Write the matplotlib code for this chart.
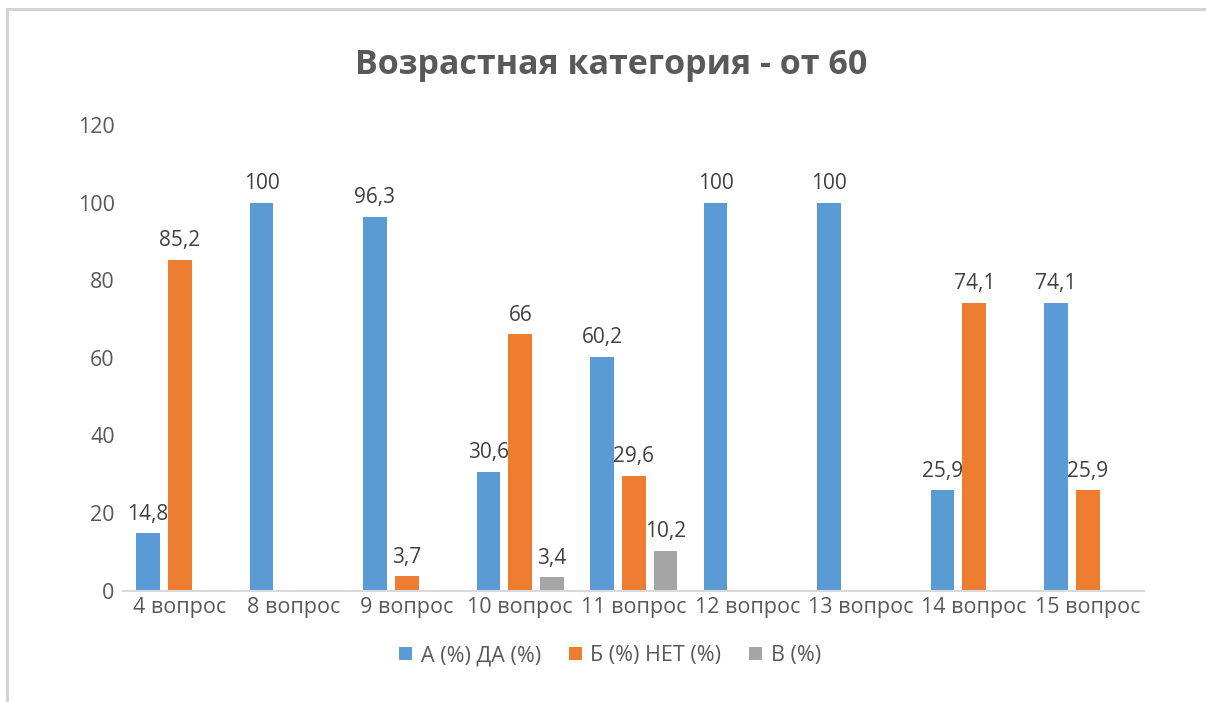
import numpy as np
import matplotlib.pyplot as plt
from matplotlib.lines import Line2D

plt.rcParams['font.family'] = ['Open Sans', 'DejaVu Sans']

categories = ['4 вопрос', '8 вопрос', '9 вопрос', '10 вопрос', '11 вопрос',
              '12 вопрос', '13 вопрос', '14 вопрос', '15 вопрос']
series_names = ['А (%) ДА (%)', 'Б (%) НЕТ (%)', 'В (%)']
val_a = [14.8, 100, 96.3, 30.6, 60.2, 100, 100, 25.9, 74.1]
val_b = [85.2, None, 3.7, 66, 29.6, None, None, 74.1, 25.9]
val_c = [None, None, None, 3.4, 10.2, None, None, None, None]
colors = ['#5B9BD5', '#ED7D31', '#A5A5A5']

text_col = '#595959'

fig = plt.figure(figsize=(12.06, 7.02), dpi=100)
ax = fig.add_axes([0.102, 0.1588, 0.847, 0.6632])

x = np.arange(len(categories))
bw = 0.21
step = 0.28
handles = []
for i, (vals, name, col) in enumerate(zip([val_a, val_b, val_c], series_names, colors)):
    idx = [k for k, a in enumerate(vals) if a is not None]
    v = np.array([vals[k] for k in idx], dtype=float)
    pos = x[idx] + (i - 1) * step
    bars = ax.bar(pos, v, width=bw, color=col, label=name)
    handles.append(bars)
    for b, val in zip(bars, v):
        s = ('%g' % val).replace('.', ',')
        ax.text(b.get_x() + b.get_width() / 2, val + 2.2, s, ha='center', va='bottom',
                fontsize=15, color='#404040')

ax.set_xlim(-0.5, len(categories) - 0.5)
ax.set_ylim(0, 120)
ax.set_yticks(range(0, 121, 20))
ax.set_xticks(x)
ax.set_xticklabels(categories)
ax.tick_params(axis='both', length=0, labelsize=15.5, colors=text_col)
ax.tick_params(axis='y', pad=6)
ax.tick_params(axis='x', pad=5)
for sp in ['top', 'right', 'left']:
    ax.spines[sp].set_visible(False)
ax.spines['bottom'].set_color('#D9D9D9')
ax.spines['bottom'].set_linewidth(1.5)

fig.text(0.507, 0.908, 'Возрастная категория - от 60', ha='center', va='center',
         fontsize=24.5, fontweight='bold', color=text_col)

leg = fig.legend(handles=handles, labels=series_names, loc='center',
                 bbox_to_anchor=(0.506, 0.066), ncol=3, frameon=False,
                 fontsize=15.5, handlelength=0.6, handleheight=0.6, handletextpad=0.4,
                 columnspacing=1.3)
for t in leg.get_texts():
    t.set_color(text_col)

# outer frame (top and left edges only)
fig.add_artist(Line2D([7 / 1206, 1], [1 - 9 / 702, 1 - 9 / 702], color='#D0D0D0', lw=2,
                      transform=fig.transFigure))
fig.add_artist(Line2D([7 / 1206, 7 / 1206], [0, 1 - 9 / 702], color='#D0D0D0', lw=2,
                      transform=fig.transFigure))

fig.savefig('out.png', dpi=100)
